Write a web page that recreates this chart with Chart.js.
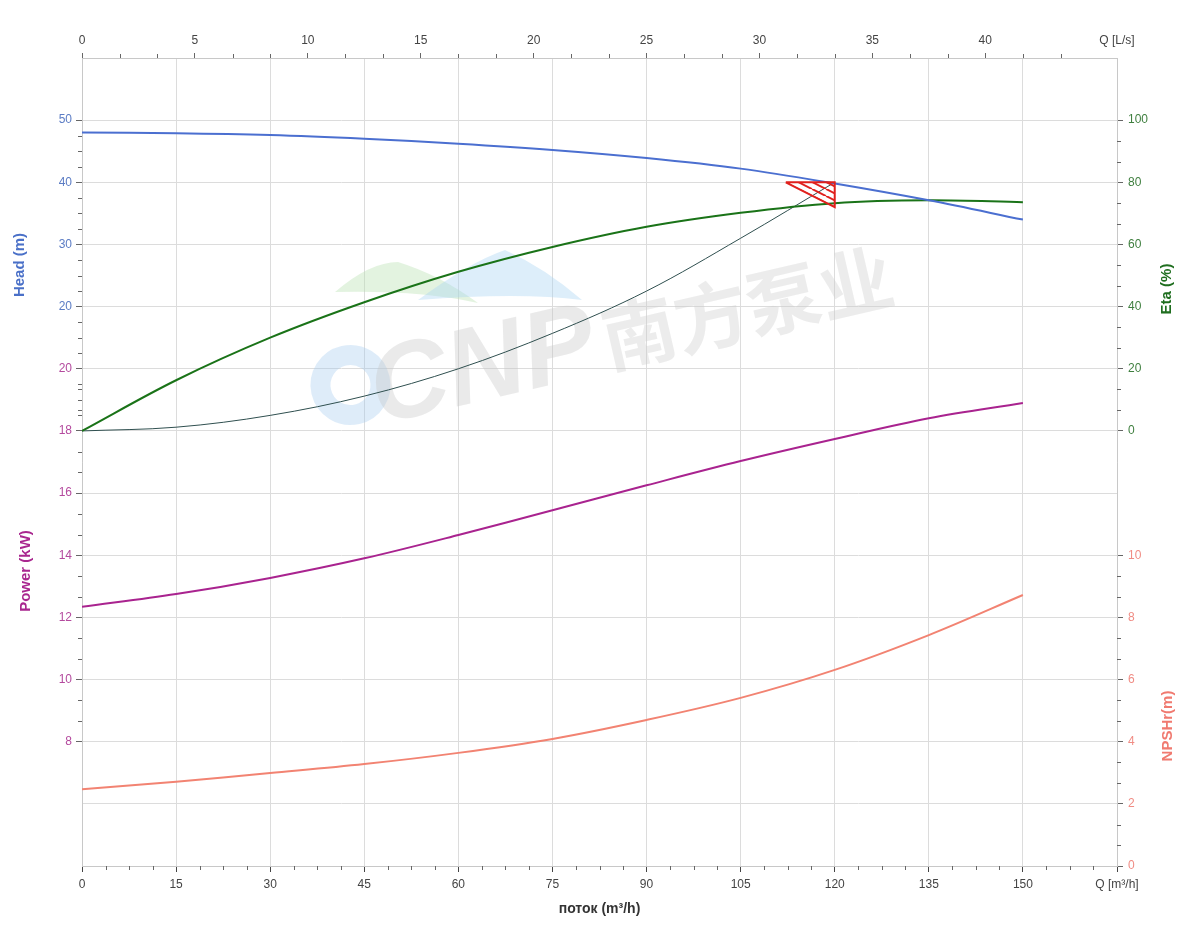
<!DOCTYPE html>
<html>
<head>
<meta charset="utf-8">
<title>Pump curve</title>
<script src="https://cdn.jsdelivr.net/npm/chart.js@4.4.1/dist/chart.umd.min.js"></script>
<style>
  html, body { margin: 0; padding: 0; background: #fff; }
  #wrap { width: 1200px; height: 950px; }
</style>
</head>
<body>
<div id="wrap"><canvas id="pumpChart" width="1200" height="950"></canvas></div>
<script>
/* ============ DATA ============ */
const flowPoints  = [0, 15, 30, 45, 60, 75, 90, 105, 120, 135, 150];            // m³/h
const headValues  = [48.0, 47.9, 47.6, 47.0, 46.2, 45.2, 43.9, 42.2, 39.8, 37.1, 34.0];
const etaValues   = [0, 16.3, 30.0, 41.4, 51.2, 59.2, 65.7, 70.2, 73.3, 74.2, 73.6];
const powerValues = [12.34, 12.75, 13.27, 13.9, 14.65, 15.45, 16.25, 17.03, 17.74, 18.41, 18.9];
const npshValues  = [2.47, 2.71, 2.99, 3.28, 3.64, 4.09, 4.70, 5.41, 6.31, 7.43, 8.72];

// system curve + duty point marker
const systemFlow = [0, 15, 30, 45, 60, 75, 90, 105, 120];
const systemHead = [0, 0.6, 2.5, 5.6, 10, 15.7, 22.5, 31, 40];
const dutyFlow = [112.2, 120, 120, 112.2];
const dutyHead = [40, 40, 36, 40];

// tick labels
const flowTicks  = [0, 15, 30, 45, 60, 75, 90, 105, 120, 135, 150];
const lpsTicks   = [0, 5, 10, 15, 20, 25, 30, 35, 40];
const headTicks  = [20, 30, 40, 50];
const powerTicks = [8, 10, 12, 14, 16, 18, 20];
const etaTicks   = [0, 20, 40, 60, 80, 100];
const npshTicks  = [0, 2, 4, 6, 8, 10];

// axis ranges (all share 13 grid bands)
const LEVELS = 13;
const flowRange  = [0, 165];
const headRange  = [-70, 60];
const powerRange = [4, 30];
const etaRange   = [-140, 120];
const npshRange  = [0, 26];

/* ============ COLORS ============ */
const colors = {
  head: '#4b6fd0', headText: '#5b7cc4', headTitle: '#4a70c8',
  power: '#a9238f', powerText: '#b44a9e', powerTitle: '#a9278f',
  eta: '#1a7318', etaText: '#3f7f3f', etaTitle: '#1f6e1f',
  npsh: '#f28372', npshText: '#f08c84', npshTitle: '#f07a70',
  system: '#2f4f4f', duty: '#e0201c',
  grid: '#dcdcdc', border: '#c8c8c8', tick: '#666',
};

Chart.defaults.font.family = '"Liberation Sans", Arial, sans-serif';
Chart.defaults.font.size = 12;

const pts = (xs, ys) => xs.map((x, i) => ({ x, y: ys[i] }));

/* ============ TICK HELPERS ============ */
function levelValue(range, level) {
  return range[0] + (range[1] - range[0]) * level / LEVELS;
}

// one visible side axis in grid levels, labels taken from several value axes
function sideTicks(groups) {
  const out = [];
  for (let l = 0; l <= LEVELS; l++) {
    let tick = { value: l, text: '', color: 'rgba(0,0,0,0)', mark: 'rgba(0,0,0,0)' };
    for (const g of groups) {
      const v = Math.round(levelValue(g.range, l) * 100) / 100;
      if (g.ticks.includes(v)) {
        tick = { value: l, text: String(v), color: g.color, mark: colors.tick };
        break;
      }
    }
    out.push(tick);
  }
  return out;
}

function hatchPattern(color) {
  const c = document.createElement('canvas');
  c.width = 14; c.height = 7;
  const g = c.getContext('2d');
  g.strokeStyle = color;
  g.lineWidth = 2;
  [-14, 0, 14].forEach((dx) => {
    g.beginPath();
    g.moveTo(dx, 0);
    g.lineTo(dx + 14, 7);
    g.stroke();
  });
  return g.createPattern(c, 'repeat');
}

/* ============ PLUGINS ============ */
const watermark = {
  id: 'watermark',
  beforeDatasetsDraw(chart) {
    const { ctx } = chart;
    ctx.save();
    // roof shapes
    ctx.fillStyle = 'rgba(185, 225, 178, 0.4)';
    ctx.beginPath();
    ctx.moveTo(335, 292);
    ctx.quadraticCurveTo(370, 262, 398, 262);
    ctx.quadraticCurveTo(440, 275, 478, 303);
    ctx.quadraticCurveTo(420, 290, 335, 292);
    ctx.fill();
    ctx.fillStyle = 'rgba(170, 213, 242, 0.4)';
    ctx.beginPath();
    ctx.moveTo(418, 300);
    ctx.quadraticCurveTo(470, 262, 505, 250);
    ctx.quadraticCurveTo(545, 268, 582, 300);
    ctx.quadraticCurveTo(520, 292, 418, 300);
    ctx.fill();

    ctx.translate(600, 350);
    ctx.rotate(-13 * Math.PI / 180);
    ctx.strokeStyle = 'rgba(160, 200, 238, 0.35)';
    ctx.lineWidth = 20;
    ctx.beginPath();
    ctx.arc(-251, -22, 30, 0, Math.PI * 2);
    ctx.stroke();
    ctx.fillStyle = 'rgba(200, 200, 200, 0.38)';
    ctx.font = 'italic bold 108px "Liberation Sans", Arial, sans-serif';
    ctx.fillText('CNP', -232, 23);
    ctx.fillStyle = 'rgba(205, 205, 205, 0.38)';
    ctx.font = 'bold 74px "Noto Sans CJK SC", sans-serif';
    ctx.fillText('南方泵业', 5, 20);
    ctx.restore();
  },
};

const minorTicks = [
  { axis: 'yHead', from: 0, to: 50, step: 2.5, major: 10, side: 'left' },
  { axis: 'yPow', from: 8, to: 20, step: 2 / 3, major: 2, side: 'left' },
  { axis: 'yEta', from: 0, to: 100, step: 20 / 3, major: 20, side: 'right' },
  { axis: 'yNpsh', from: 0, to: 10, step: 2 / 3, major: 2, side: 'right' },
  { axis: 'x', from: 0, to: 165, step: 3.75, major: 15, side: 'bottom' },
  { axis: 'xTop', from: 0, to: 43.4, step: 5 / 3, major: 5, side: 'top' },
];

const minorTickPlugin = {
  id: 'minorTicks',
  afterDraw(chart) {
    const { ctx, chartArea: a } = chart;
    ctx.save();
    ctx.strokeStyle = colors.tick;
    ctx.lineWidth = 1;
    minorTicks.forEach((m) => {
      const scale = chart.scales[m.axis];
      for (let n = 0; ; n++) {
        const v = m.from + n * m.step;
        if (v > m.to + 1e-6) break;
        const r = v / m.major;
        if (Math.abs(r - Math.round(r)) < 1e-6) continue;
        const p = Math.round(scale.getPixelForValue(v)) + 0.5;
        ctx.beginPath();
        if (m.side === 'left') { ctx.moveTo(a.left - 4, p); ctx.lineTo(a.left, p); }
        if (m.side === 'right') { ctx.moveTo(a.right, p); ctx.lineTo(a.right + 4, p); }
        if (m.side === 'bottom') { ctx.moveTo(p, a.bottom); ctx.lineTo(p, a.bottom + 4); }
        if (m.side === 'top') { ctx.moveTo(p, a.top - 4); ctx.lineTo(p, a.top); }
        ctx.stroke();
      }
    });
    ctx.restore();
  },
};

const axisTitles = [
  { text: 'Head (m)', color: colors.headTitle, x: 20, y: 265 },
  { text: 'Power (kW)', color: colors.powerTitle, x: 26, y: 571 },
  { text: 'Eta (%)', color: colors.etaTitle, x: 1167, y: 289 },
  { text: 'NPSHr(m)', color: colors.npshTitle, x: 1168, y: 726 },
];

const axisTitlePlugin = {
  id: 'axisTitles',
  afterDraw(chart) {
    const { ctx } = chart;
    axisTitles.forEach((t) => {
      ctx.save();
      ctx.translate(t.x, t.y);
      ctx.rotate(-Math.PI / 2);
      ctx.font = 'bold 15px "Liberation Sans", Arial, sans-serif';
      ctx.fillStyle = t.color;
      ctx.textAlign = 'center';
      ctx.textBaseline = 'middle';
      ctx.fillText(t.text, 0, 0);
      ctx.restore();
    });
  },
};

/* ============ CHART ============ */
const leftTicks = sideTicks([
  { range: powerRange, ticks: powerTicks, color: colors.powerText },
  { range: headRange, ticks: headTicks, color: colors.headText },
]);
const rightTicks = sideTicks([
  { range: etaRange, ticks: etaTicks, color: colors.etaText },
  { range: npshRange, ticks: npshTicks, color: colors.npshText },
]);
const lpsMax = flowRange[1] / 3.6;
const topTicks = lpsTicks.map((v) => ({ value: v, text: String(v), mark: colors.tick }))
  .concat([{ value: lpsMax, text: 'Q [L/s]', mark: 'rgba(0,0,0,0)' }]);

const lineBase = { pointRadius: 0, pointHoverRadius: 0, fill: false, tension: 0.35 };

new Chart(document.getElementById('pumpChart'), {
  type: 'line',
  data: {
    datasets: [
      {
        label: 'Duty point',
        data: pts(dutyFlow, dutyHead),
        yAxisID: 'yHead',
        borderColor: colors.duty,
        borderWidth: 2,
        backgroundColor: hatchPattern(colors.duty),
        fill: 'shape',
        tension: 0,
        pointRadius: 0,
      },
      { ...lineBase, label: 'Head', data: pts(flowPoints, headValues), yAxisID: 'yHead', borderColor: colors.head, borderWidth: 2 },
      { ...lineBase, label: 'Eta', data: pts(flowPoints, etaValues), yAxisID: 'yEta', borderColor: colors.eta, borderWidth: 2 },
      { ...lineBase, label: 'System', data: pts(systemFlow, systemHead), yAxisID: 'yHead', borderColor: colors.system, borderWidth: 1 },
      { ...lineBase, label: 'Power', data: pts(flowPoints, powerValues), yAxisID: 'yPow', borderColor: colors.power, borderWidth: 2 },
      { ...lineBase, label: 'NPSHr', data: pts(flowPoints, npshValues), yAxisID: 'yNpsh', borderColor: colors.npsh, borderWidth: 2 },
    ],
  },
  options: {
    responsive: false,
    animation: false,
    layout: { padding: 0 },
    plugins: { legend: { display: false }, tooltip: { enabled: false } },
    scales: {
      x: {
        type: 'linear',
        position: 'bottom',
        min: flowRange[0],
        max: flowRange[1],
        afterBuildTicks: (s) => {
          s.ticks = flowTicks.map((v) => ({ value: v, text: String(v) }))
            .concat([{ value: flowRange[1], text: 'Q [m³/h]' }]);
        },
        ticks: { color: '#444', padding: 5, maxRotation: 0, autoSkip: false, callback: (v, i, t) => t[i].text },
        grid: { color: colors.grid, tickColor: '#444', tickLength: 6 },
        border: { color: colors.border },
        title: {
          display: true,
          text: 'поток (m³/h)',
          color: '#333',
          font: { size: 14, weight: 'bold' },
          padding: { top: 4, bottom: 32 },
        },
        afterFit: (s) => { s.height = 84; },
      },
      xTop: {
        type: 'linear',
        position: 'top',
        min: 0,
        max: lpsMax,
        afterBuildTicks: (s) => { s.ticks = topTicks.map((t) => ({ ...t })); },
        ticks: { color: '#444', padding: 5, maxRotation: 0, autoSkip: false, callback: (v, i, t) => t[i].text },
        grid: { drawOnChartArea: false, tickLength: 5, tickColor: (c) => c.tick.mark },
        border: { color: colors.border },
        afterFit: (s) => { s.height = 58; },
      },
      yL: {
        type: 'linear',
        position: 'left',
        min: 0,
        max: LEVELS,
        afterBuildTicks: (s) => { s.ticks = leftTicks.map((t) => ({ ...t })); },
        ticks: { padding: 4, autoSkip: false, color: (c) => c.tick.color, callback: (v, i, t) => t[i].text },
        grid: { color: colors.grid, tickLength: 6, tickColor: (c) => c.tick.mark },
        border: { color: colors.border },
        afterFit: (s) => { s.width = 82; },
      },
      yR: {
        type: 'linear',
        position: 'right',
        min: 0,
        max: LEVELS,
        afterBuildTicks: (s) => { s.ticks = rightTicks.map((t) => ({ ...t })); },
        ticks: { padding: 5, autoSkip: false, color: (c) => c.tick.color, callback: (v, i, t) => t[i].text },
        grid: { drawOnChartArea: false, tickLength: 6, tickColor: (c) => c.tick.mark },
        border: { color: colors.border },
        afterFit: (s) => { s.width = 83; },
      },
      yHead: { type: 'linear', display: false, min: headRange[0], max: headRange[1] },
      yPow:  { type: 'linear', display: false, min: powerRange[0], max: powerRange[1] },
      yEta:  { type: 'linear', display: false, min: etaRange[0], max: etaRange[1] },
      yNpsh: { type: 'linear', display: false, min: npshRange[0], max: npshRange[1] },
    },
  },
  plugins: [watermark, minorTickPlugin, axisTitlePlugin],
});
</script>
</body>
</html>
